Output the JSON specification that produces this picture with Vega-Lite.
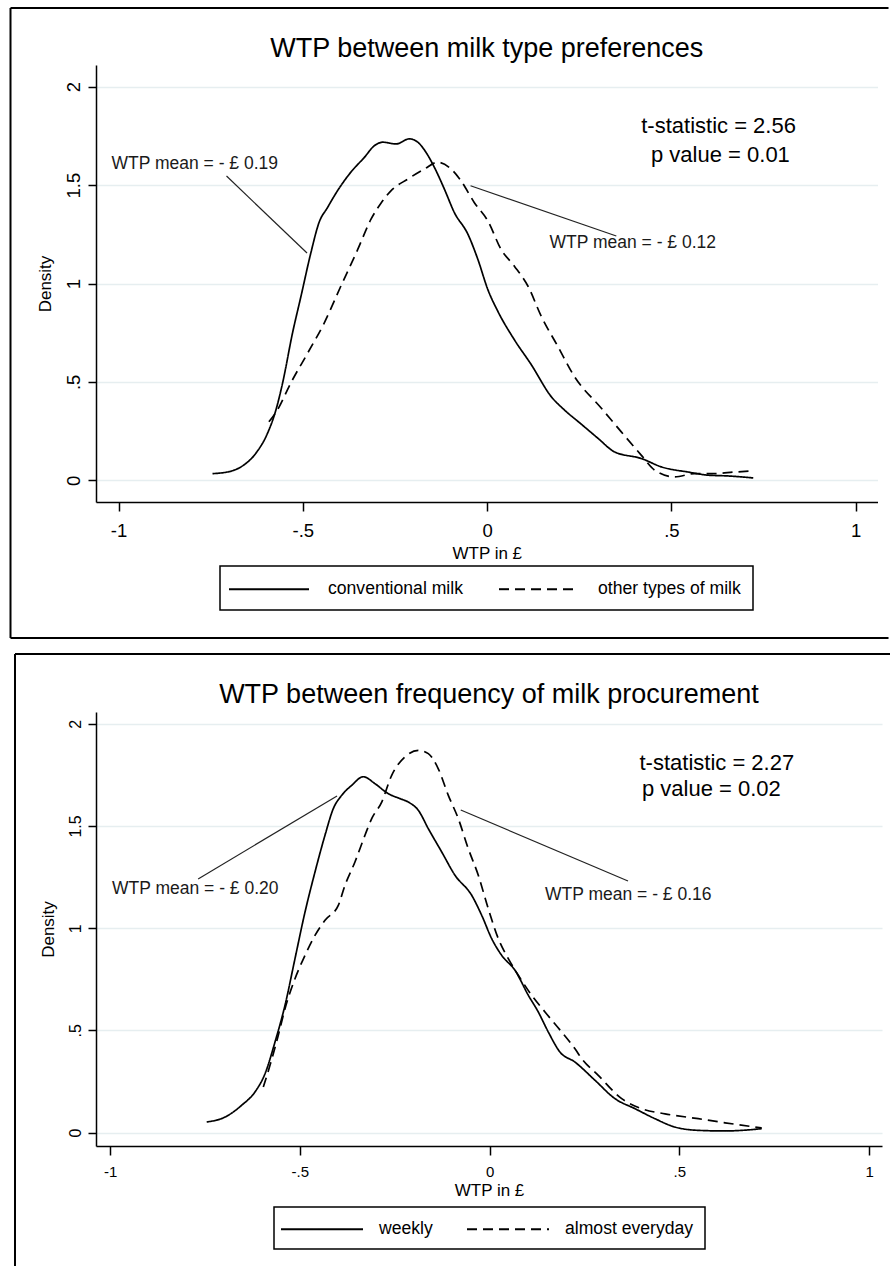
{
  "$schema": "https://vega.github.io/schema/vega-lite/v6.json",
  "background": "white",
  "padding": {"left": 9, "top": 7, "right": 0, "bottom": 0},
  "autosize": {"type": "pad"},
  "config": {
    "font": "Liberation Sans",
    "view": {"stroke": null},
    "legend": {"layout": {"bottom": {"anchor": "middle"}}, "strokeWidth": 1.5}
  },
  "spacing": 12,
  "resolve": {"scale": {"strokeDash": "independent", "x": "independent", "y": "independent"}, "legend": {"strokeDash": "independent"}},
  "datasets": {
    "milk_type": [
      {"group": "conventional milk", "wtp": -0.745, "density": 0.034},
      {"group": "conventional milk", "wtp": -0.70, "density": 0.044},
      {"group": "conventional milk", "wtp": -0.668, "density": 0.068},
      {"group": "conventional milk", "wtp": -0.628, "density": 0.136},
      {"group": "conventional milk", "wtp": -0.596, "density": 0.238},
      {"group": "conventional milk", "wtp": -0.573, "density": 0.357},
      {"group": "conventional milk", "wtp": -0.555, "density": 0.493},
      {"group": "conventional milk", "wtp": -0.528, "density": 0.748},
      {"group": "conventional milk", "wtp": -0.505, "density": 0.935},
      {"group": "conventional milk", "wtp": -0.478, "density": 1.157},
      {"group": "conventional milk", "wtp": -0.456, "density": 1.31},
      {"group": "conventional milk", "wtp": -0.433, "density": 1.386},
      {"group": "conventional milk", "wtp": -0.406, "density": 1.471},
      {"group": "conventional milk", "wtp": -0.37, "density": 1.565},
      {"group": "conventional milk", "wtp": -0.333, "density": 1.641},
      {"group": "conventional milk", "wtp": -0.306, "density": 1.7},
      {"group": "conventional milk", "wtp": -0.283, "density": 1.718},
      {"group": "conventional milk", "wtp": -0.247, "density": 1.709},
      {"group": "conventional milk", "wtp": -0.211, "density": 1.735},
      {"group": "conventional milk", "wtp": -0.188, "density": 1.718},
      {"group": "conventional milk", "wtp": -0.166, "density": 1.667},
      {"group": "conventional milk", "wtp": -0.143, "density": 1.59},
      {"group": "conventional milk", "wtp": -0.116, "density": 1.48},
      {"group": "conventional milk", "wtp": -0.089, "density": 1.361},
      {"group": "conventional milk", "wtp": -0.052, "density": 1.25},
      {"group": "conventional milk", "wtp": -0.025, "density": 1.122},
      {"group": "conventional milk", "wtp": 0.002, "density": 0.969},
      {"group": "conventional milk", "wtp": 0.029, "density": 0.859},
      {"group": "conventional milk", "wtp": 0.074, "density": 0.714},
      {"group": "conventional milk", "wtp": 0.12, "density": 0.587},
      {"group": "conventional milk", "wtp": 0.174, "density": 0.425},
      {"group": "conventional milk", "wtp": 0.21, "density": 0.357},
      {"group": "conventional milk", "wtp": 0.255, "density": 0.286},
      {"group": "conventional milk", "wtp": 0.301, "density": 0.213},
      {"group": "conventional milk", "wtp": 0.346, "density": 0.144},
      {"group": "conventional milk", "wtp": 0.418, "density": 0.111},
      {"group": "conventional milk", "wtp": 0.473, "density": 0.068},
      {"group": "conventional milk", "wtp": 0.545, "density": 0.042},
      {"group": "conventional milk", "wtp": 0.6, "density": 0.026},
      {"group": "conventional milk", "wtp": 0.654, "density": 0.022},
      {"group": "conventional milk", "wtp": 0.722, "density": 0.012},
      {"group": "other types of milk", "wtp": -0.592, "density": 0.297},
      {"group": "other types of milk", "wtp": -0.569, "density": 0.357},
      {"group": "other types of milk", "wtp": -0.533, "density": 0.493},
      {"group": "other types of milk", "wtp": -0.487, "density": 0.646},
      {"group": "other types of milk", "wtp": -0.442, "density": 0.799},
      {"group": "other types of milk", "wtp": -0.397, "density": 0.986},
      {"group": "other types of milk", "wtp": -0.351, "density": 1.173},
      {"group": "other types of milk", "wtp": -0.315, "density": 1.327},
      {"group": "other types of milk", "wtp": -0.288, "density": 1.408},
      {"group": "other types of milk", "wtp": -0.261, "density": 1.471},
      {"group": "other types of milk", "wtp": -0.215, "density": 1.531},
      {"group": "other types of milk", "wtp": -0.17, "density": 1.582},
      {"group": "other types of milk", "wtp": -0.134, "density": 1.616},
      {"group": "other types of milk", "wtp": -0.098, "density": 1.582},
      {"group": "other types of milk", "wtp": -0.071, "density": 1.522},
      {"group": "other types of milk", "wtp": -0.035, "density": 1.412},
      {"group": "other types of milk", "wtp": 0.002, "density": 1.318},
      {"group": "other types of milk", "wtp": 0.038, "density": 1.173},
      {"group": "other types of milk", "wtp": 0.074, "density": 1.088},
      {"group": "other types of milk", "wtp": 0.111, "density": 0.986},
      {"group": "other types of milk", "wtp": 0.147, "density": 0.833},
      {"group": "other types of milk", "wtp": 0.192, "density": 0.68},
      {"group": "other types of milk", "wtp": 0.237, "density": 0.527},
      {"group": "other types of milk", "wtp": 0.31, "density": 0.366},
      {"group": "other types of milk", "wtp": 0.364, "density": 0.246},
      {"group": "other types of milk", "wtp": 0.418, "density": 0.128},
      {"group": "other types of milk", "wtp": 0.455, "density": 0.051},
      {"group": "other types of milk", "wtp": 0.509, "density": 0.017},
      {"group": "other types of milk", "wtp": 0.563, "density": 0.034},
      {"group": "other types of milk", "wtp": 0.617, "density": 0.034},
      {"group": "other types of milk", "wtp": 0.672, "density": 0.042},
      {"group": "other types of milk", "wtp": 0.717, "density": 0.047}
    ],
    "frequency": [
      {"group": "weekly", "wtp": -0.7455, "density": 0.052},
      {"group": "weekly", "wtp": -0.6972, "density": 0.076},
      {"group": "weekly", "wtp": -0.6532, "density": 0.134},
      {"group": "weekly", "wtp": -0.6182, "density": 0.199},
      {"group": "weekly", "wtp": -0.5918, "density": 0.288},
      {"group": "weekly", "wtp": -0.5655, "density": 0.443},
      {"group": "weekly", "wtp": -0.5391, "density": 0.623},
      {"group": "weekly", "wtp": -0.5128, "density": 0.851},
      {"group": "weekly", "wtp": -0.4864, "density": 1.079},
      {"group": "weekly", "wtp": -0.4601, "density": 1.275},
      {"group": "weekly", "wtp": -0.4337, "density": 1.455},
      {"group": "weekly", "wtp": -0.4119, "density": 1.585},
      {"group": "weekly", "wtp": -0.3897, "density": 1.65},
      {"group": "weekly", "wtp": -0.3634, "density": 1.699},
      {"group": "weekly", "wtp": -0.3328, "density": 1.741},
      {"group": "weekly", "wtp": -0.302, "density": 1.707},
      {"group": "weekly", "wtp": -0.2669, "density": 1.658},
      {"group": "weekly", "wtp": -0.2361, "density": 1.634},
      {"group": "weekly", "wtp": -0.2142, "density": 1.617},
      {"group": "weekly", "wtp": -0.1879, "density": 1.577},
      {"group": "weekly", "wtp": -0.1615, "density": 1.487},
      {"group": "weekly", "wtp": -0.1262, "density": 1.373},
      {"group": "weekly", "wtp": -0.0912, "density": 1.259},
      {"group": "weekly", "wtp": -0.0472, "density": 1.161},
      {"group": "weekly", "wtp": -0.0208, "density": 1.063},
      {"group": "weekly", "wtp": 0.0055, "density": 0.949},
      {"group": "weekly", "wtp": 0.0319, "density": 0.867},
      {"group": "weekly", "wtp": 0.0669, "density": 0.794},
      {"group": "weekly", "wtp": 0.102, "density": 0.672},
      {"group": "weekly", "wtp": 0.1283, "density": 0.59},
      {"group": "weekly", "wtp": 0.1547, "density": 0.492},
      {"group": "weekly", "wtp": 0.1855, "density": 0.394},
      {"group": "weekly", "wtp": 0.225, "density": 0.345},
      {"group": "weekly", "wtp": 0.2777, "density": 0.256},
      {"group": "weekly", "wtp": 0.3304, "density": 0.166},
      {"group": "weekly", "wtp": 0.3831, "density": 0.117},
      {"group": "weekly", "wtp": 0.4358, "density": 0.068},
      {"group": "weekly", "wtp": 0.4885, "density": 0.027},
      {"group": "weekly", "wtp": 0.5499, "density": 0.011},
      {"group": "weekly", "wtp": 0.6203, "density": 0.008},
      {"group": "weekly", "wtp": 0.717, "density": 0.019},
      {"group": "almost everyday", "wtp": -0.5963, "density": 0.223},
      {"group": "almost everyday", "wtp": -0.5787, "density": 0.329},
      {"group": "almost everyday", "wtp": -0.5568, "density": 0.476},
      {"group": "almost everyday", "wtp": -0.5391, "density": 0.606},
      {"group": "almost everyday", "wtp": -0.5128, "density": 0.753},
      {"group": "almost everyday", "wtp": -0.4864, "density": 0.867},
      {"group": "almost everyday", "wtp": -0.4601, "density": 0.965},
      {"group": "almost everyday", "wtp": -0.4337, "density": 1.039},
      {"group": "almost everyday", "wtp": -0.3987, "density": 1.112},
      {"group": "almost everyday", "wtp": -0.3811, "density": 1.21},
      {"group": "almost everyday", "wtp": -0.3548, "density": 1.324},
      {"group": "almost everyday", "wtp": -0.3284, "density": 1.455},
      {"group": "almost everyday", "wtp": -0.3107, "density": 1.536},
      {"group": "almost everyday", "wtp": -0.2843, "density": 1.617},
      {"group": "almost everyday", "wtp": -0.258, "density": 1.748},
      {"group": "almost everyday", "wtp": -0.2229, "density": 1.838},
      {"group": "almost everyday", "wtp": -0.1879, "density": 1.87},
      {"group": "almost everyday", "wtp": -0.1615, "density": 1.854},
      {"group": "almost everyday", "wtp": -0.1352, "density": 1.78},
      {"group": "almost everyday", "wtp": -0.1088, "density": 1.65},
      {"group": "almost everyday", "wtp": -0.0825, "density": 1.536},
      {"group": "almost everyday", "wtp": -0.0561, "density": 1.389},
      {"group": "almost everyday", "wtp": -0.0298, "density": 1.259},
      {"group": "almost everyday", "wtp": -0.0034, "density": 1.095},
      {"group": "almost everyday", "wtp": 0.0229, "density": 0.949},
      {"group": "almost everyday", "wtp": 0.0493, "density": 0.851},
      {"group": "almost everyday", "wtp": 0.0756, "density": 0.77},
      {"group": "almost everyday", "wtp": 0.1109, "density": 0.672},
      {"group": "almost everyday", "wtp": 0.146, "density": 0.59},
      {"group": "almost everyday", "wtp": 0.19, "density": 0.492},
      {"group": "almost everyday", "wtp": 0.225, "density": 0.41},
      {"group": "almost everyday", "wtp": 0.2427, "density": 0.362},
      {"group": "almost everyday", "wtp": 0.2864, "density": 0.28},
      {"group": "almost everyday", "wtp": 0.3481, "density": 0.166},
      {"group": "almost everyday", "wtp": 0.4008, "density": 0.117},
      {"group": "almost everyday", "wtp": 0.4622, "density": 0.092},
      {"group": "almost everyday", "wtp": 0.5499, "density": 0.068},
      {"group": "almost everyday", "wtp": 0.6203, "density": 0.048},
      {"group": "almost everyday", "wtp": 0.717, "density": 0.023}
    ],
    "top_stats": [
      {"label": "t-statistic = 2.56", "x": 0.628, "y": 1.802},
      {"label": "p value = 0.01", "x": 0.633, "y": 1.653}
    ],
    "top_means": [
      {"label": "WTP mean = - £ 0.19", "x": -1.019, "y": 1.607},
      {"label": "WTP mean = - £ 0.12", "x": 0.1693, "y": 1.2058}
    ],
    "top_pointers": [
      {"x": -0.707, "y": 1.546, "x2": -0.4886, "y2": 1.155},
      {"x": -0.045, "y": 1.497, "x2": 0.3505, "y2": 1.2414}
    ],
    "bottom_stats": [
      {"label": "t-statistic = 2.27", "x": 0.395, "y": 1.808},
      {"label": "p value = 0.02", "x": 0.4016, "y": 1.681}
    ],
    "bottom_means": [
      {"label": "WTP mean = - £ 0.20", "x": -0.995, "y": 1.192},
      {"label": "WTP mean = - £ 0.16", "x": 0.146, "y": 1.163}
    ],
    "bottom_pointers": [
      {"x": -0.768, "y": 1.241, "x2": -0.402, "y2": 1.647},
      {"x": -0.076, "y": 1.578, "x2": 0.3647, "y2": 1.231}
    ]
  },
  "vconcat": [
    {
      "width": 781.5,
      "height": 437,
      "title": {"text": "WTP between milk type preferences", "fontSize": 27, "fontWeight": "normal", "font": "Liberation Sans", "color": "black", "anchor": "middle", "frame": "group", "offset": -56},
      "layer": [
        {
          "data": {"values": [{}]},
          "mark": {"type": "rule", "stroke": "black", "strokeWidth": 2, "clip": false},
          "encoding": {
            "x": {"datum": -1.29306, "type": "quantitative", "scale": {"domain": [-1.0611, 1.0591], "nice": false, "zero": false}},
            "x2": {"datum": 1.08898},
            "y": {"datum": 2.3999, "type": "quantitative", "scale": {"domain": [-0.1103, 2.1103], "nice": false, "zero": false}}
          }
        },
        {
          "data": {"values": [{}]},
          "mark": {"type": "rule", "stroke": "black", "strokeWidth": 2, "clip": false},
          "encoding": {
            "x": {"datum": -1.29306, "type": "quantitative", "scale": {"domain": [-1.0611, 1.0591], "nice": false, "zero": false}},
            "x2": {"datum": 1.08898},
            "y": {"datum": -0.8014, "type": "quantitative", "scale": {"domain": [-0.1103, 2.1103], "nice": false, "zero": false}}
          }
        },
        {
          "data": {"values": [{}]},
          "mark": {"type": "rule", "stroke": "black", "strokeWidth": 2, "clip": false},
          "encoding": {
            "x": {"datum": -1.29306, "type": "quantitative", "scale": {"domain": [-1.0611, 1.0591], "nice": false, "zero": false}},
            "y": {"datum": -0.8014, "type": "quantitative", "scale": {"domain": [-0.1103, 2.1103], "nice": false, "zero": false}},
            "y2": {"datum": 2.3999}
          }
        },
        {
          "data": {"name": "milk_type"},
          "mark": {"type": "line", "color": "black", "strokeWidth": 1.7, "interpolate": "monotone"},
          "encoding": {
            "x": {"field": "wtp", "type": "quantitative",
              "scale": {"domain": [-1.0611, 1.0591], "nice": false, "zero": false},
              "axis": {"title": "WTP in £", "values": [-1, -0.5, 0, 0.5, 1], "labelExpr": "datum.value == 0.5 ? '.5' : datum.value == -0.5 ? '-.5' : datum.value == -1 ? '-1' : datum.value == 1 ? '1' : '0'", "grid": false, "domainColor": "black", "domainWidth": 1.5, "tickColor": "black", "tickWidth": 1.5, "tickSize": 9, "labelFontSize": 18.5, "labelPadding": 10, "labelFlush": false, "labelOverlap": false, "labelColor": "black", "titleFontSize": 17, "titleFontWeight": "normal", "titleColor": "black", "titlePadding": 6}},
            "y": {"field": "density", "type": "quantitative",
              "scale": {"domain": [-0.1103, 2.1103], "nice": false, "zero": false},
              "axis": {"title": "Density", "values": [0, 0.5, 1, 1.5, 2], "labelExpr": "datum.value == 0.5 ? '.5' : datum.value == 1.5 ? '1.5' : datum.value == 1 ? '1' : datum.value == 2 ? '2' : '0'", "grid": true, "gridColor": "#e6eef0", "gridWidth": 1.5, "domainColor": "black", "domainWidth": 1.5, "tickColor": "black", "tickWidth": 1.5, "tickSize": 8, "labelAngle": -90, "labelAlign": "center", "labelBaseline": "bottom", "labelFontSize": 18.5, "labelPadding": 5, "labelOverlap": false, "labelColor": "black", "titleFontSize": 17, "titleFontWeight": "normal", "titleColor": "black", "titlePadding": 10}},
            "strokeDash": {"field": "group", "type": "nominal",
              "scale": {"domain": ["conventional milk", "other types of milk"], "range": [[1, 0], [10, 6]]},
              "legend": {"title": null, "orient": "bottom", "direction": "horizontal", "symbolType": "M-4,0H4", "symbolSize": 400, "symbolOffset": 26, "symbolStrokeWidth": 2, "symbolStrokeColor": "black", "labelFontSize": 17.6, "labelColor": "black", "labelOffset": 48, "columnPadding": 32, "strokeColor": "black", "fillColor": "white", "padding": 12, "offset": 4}}
          }
        },
        {
          "data": {"name": "top_pointers"},
          "mark": {"type": "rule", "stroke": "#222222", "strokeWidth": 1.2},
          "encoding": {
            "x": {"field": "x", "type": "quantitative", "scale": {"domain": [-1.0611, 1.0591], "nice": false, "zero": false}},
            "y": {"field": "y", "type": "quantitative", "scale": {"domain": [-0.1103, 2.1103], "nice": false, "zero": false}},
            "x2": {"field": "x2"},
            "y2": {"field": "y2"}
          }
        },
        {
          "data": {"name": "top_stats"},
          "mark": {"type": "text", "fontSize": 22, "align": "center", "baseline": "middle", "color": "black"},
          "encoding": {
            "x": {"field": "x", "type": "quantitative", "scale": {"domain": [-1.0611, 1.0591], "nice": false, "zero": false}},
            "y": {"field": "y", "type": "quantitative", "scale": {"domain": [-0.1103, 2.1103], "nice": false, "zero": false}},
            "text": {"field": "label"}
          }
        },
        {
          "data": {"name": "top_means"},
          "mark": {"type": "text", "fontSize": 17.5, "align": "left", "baseline": "middle", "color": "#1a1a1a"},
          "encoding": {
            "x": {"field": "x", "type": "quantitative", "scale": {"domain": [-1.0611, 1.0591], "nice": false, "zero": false}},
            "y": {"field": "y", "type": "quantitative", "scale": {"domain": [-0.1103, 2.1103], "nice": false, "zero": false}},
            "text": {"field": "label"}
          }
        }
      ]
    },
    {
      "width": 786,
      "height": 434,
      "title": {"text": "WTP between frequency of milk procurement", "fontSize": 27, "fontWeight": "normal", "font": "Liberation Sans", "color": "black", "anchor": "middle", "frame": "group", "offset": -56},
      "layer": [
        {
          "data": {"values": [{}]},
          "mark": {"type": "rule", "stroke": "black", "strokeWidth": 2, "clip": false},
          "encoding": {
            "x": {"datum": -1.25059, "type": "quantitative", "scale": {"domain": [-1.03715, 1.03399], "nice": false, "zero": false}},
            "x2": {"datum": 1.06298},
            "y": {"datum": 2.3415, "type": "quantitative", "scale": {"domain": [-0.06556, 2.0577], "nice": false, "zero": false}}
          }
        },
        {
          "data": {"values": [{}]},
          "mark": {"type": "rule", "stroke": "black", "strokeWidth": 2, "clip": false},
          "encoding": {
            "x": {"datum": -1.25059, "type": "quantitative", "scale": {"domain": [-1.03715, 1.03399], "nice": false, "zero": false}},
            "y": {"datum": -0.65264, "type": "quantitative", "scale": {"domain": [-0.06556, 2.0577], "nice": false, "zero": false}},
            "y2": {"datum": 2.3415}
          }
        },
        {
          "data": {"name": "frequency"},
          "mark": {"type": "line", "color": "black", "strokeWidth": 1.7, "interpolate": "monotone"},
          "encoding": {
            "x": {"field": "wtp", "type": "quantitative",
              "scale": {"domain": [-1.03715, 1.03399], "nice": false, "zero": false},
              "axis": {"title": "WTP in £", "values": [-1, -0.5, 0, 0.5, 1], "labelExpr": "datum.value == 0.5 ? '.5' : datum.value == -0.5 ? '-.5' : datum.value == -1 ? '-1' : datum.value == 1 ? '1' : '0'", "grid": false, "domainColor": "black", "domainWidth": 1.5, "tickColor": "black", "tickWidth": 1.5, "tickSize": 9, "labelFontSize": 15, "labelPadding": 9, "labelFlush": false, "labelOverlap": false, "labelColor": "black", "titleFontSize": 17, "titleFontWeight": "normal", "titleColor": "black", "titlePadding": 3}},
            "y": {"field": "density", "type": "quantitative",
              "scale": {"domain": [-0.06556, 2.0577], "nice": false, "zero": false},
              "axis": {"title": "Density", "values": [0, 0.5, 1, 1.5, 2], "labelExpr": "datum.value == 0.5 ? '.5' : datum.value == 1.5 ? '1.5' : datum.value == 1 ? '1' : datum.value == 2 ? '2' : '0'", "grid": true, "gridColor": "#e6eef0", "gridWidth": 1.5, "domainColor": "black", "domainWidth": 1.5, "tickColor": "black", "tickWidth": 1.5, "tickSize": 8, "labelAngle": -90, "labelAlign": "center", "labelBaseline": "bottom", "labelFontSize": 16, "labelPadding": 5, "labelOverlap": false, "labelColor": "black", "titleFontSize": 17, "titleFontWeight": "normal", "titleColor": "black", "titlePadding": 10}},
            "strokeDash": {"field": "group", "type": "nominal",
              "scale": {"domain": ["weekly", "almost everyday"], "range": [[1, 0], [10, 6]]},
              "legend": {"title": null, "orient": "bottom", "direction": "horizontal", "symbolType": "M-4.1,0H4.1", "symbolSize": 400, "symbolOffset": 26, "symbolStrokeWidth": 2, "symbolStrokeColor": "black", "labelFontSize": 17.6, "labelColor": "black", "labelOffset": 46, "columnPadding": 30, "strokeColor": "black", "fillColor": "white", "padding": 11, "offset": 9}}
          }
        },
        {
          "data": {"name": "bottom_pointers"},
          "mark": {"type": "rule", "stroke": "#222222", "strokeWidth": 1.2},
          "encoding": {
            "x": {"field": "x", "type": "quantitative", "scale": {"domain": [-1.03715, 1.03399], "nice": false, "zero": false}},
            "y": {"field": "y", "type": "quantitative", "scale": {"domain": [-0.06556, 2.0577], "nice": false, "zero": false}},
            "x2": {"field": "x2"},
            "y2": {"field": "y2"}
          }
        },
        {
          "data": {"name": "bottom_stats"},
          "mark": {"type": "text", "fontSize": 22, "align": "left", "baseline": "middle", "color": "black"},
          "encoding": {
            "x": {"field": "x", "type": "quantitative", "scale": {"domain": [-1.03715, 1.03399], "nice": false, "zero": false}},
            "y": {"field": "y", "type": "quantitative", "scale": {"domain": [-0.06556, 2.0577], "nice": false, "zero": false}},
            "text": {"field": "label"}
          }
        },
        {
          "data": {"name": "bottom_means"},
          "mark": {"type": "text", "fontSize": 17.5, "align": "left", "baseline": "middle", "color": "#1a1a1a"},
          "encoding": {
            "x": {"field": "x", "type": "quantitative", "scale": {"domain": [-1.03715, 1.03399], "nice": false, "zero": false}},
            "y": {"field": "y", "type": "quantitative", "scale": {"domain": [-0.06556, 2.0577], "nice": false, "zero": false}},
            "text": {"field": "label"}
          }
        }
      ]
    }
  ]
}
